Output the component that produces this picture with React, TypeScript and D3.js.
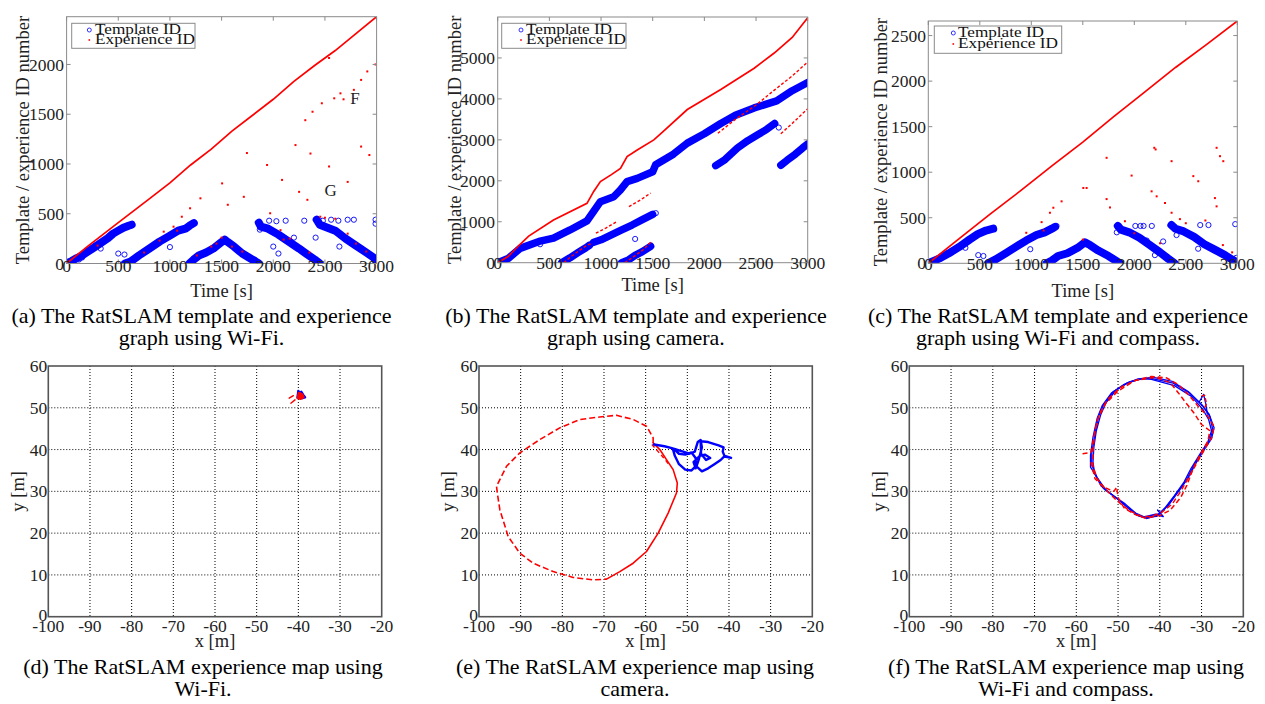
import React from 'react';
import * as d3 from 'd3';

type P = [number, number];

const FONT = '"Liberation Serif", "Times New Roman", serif';

// ---------- shared ticks ----------
const timeTicks = [0, 500, 1000, 1500, 2000, 2500, 3000];
const aYTicks = [0, 500, 1000, 1500, 2000];
const bYTicks = [0, 1000, 2000, 3000, 4000, 5000];
const cYTicks = [0, 500, 1000, 1500, 2000, 2500];
const mapXTicks = [-100, -90, -80, -70, -60, -50, -40, -30, -20];
const mapYTicks = [0, 10, 20, 30, 40, 50, 60];

// ---------- (a) Wi-Fi template / experience ----------
const aTpl1: P[] = [[0, 0], [50, 25], [100, 55], [150, 80], [200, 115], [250, 150], [300, 185], [350, 220], [400, 255], [450, 300], [500, 330], [550, 360], [600, 380], [630, 390]];
const aTpl2: P[] = [[565, 0], [620, 20], [700, 80], [800, 150], [900, 220], [1000, 280], [1080, 330], [1150, 350], [1190, 380], [1230, 405]];
const aTpl3: P[] = [[1190, 0], [1230, 40], [1280, 80], [1350, 110], [1420, 150], [1480, 200], [1530, 240], [1560, 215], [1620, 170], [1700, 100], [1780, 50], [1860, 0]];
const aTpl4: P[] = [[1860, 410], [1880, 370], [1950, 350], [2050, 290], [2150, 220], [2250, 150], [2330, 90], [2400, 40], [2450, 0]];
const aTpl5: P[] = [[2420, 440], [2450, 390], [2500, 370], [2600, 330], [2700, 250], [2800, 180], [2900, 110], [2970, 60], [3000, 20]];
const aTplOut: P[] = [[500, 100], [560, 90], [1000, 165], [1240, 410], [1870, 340], [1960, 430], [2030, 425], [2120, 430], [2200, 260], [2300, 430], [2410, 260], [2480, 430], [2640, 170], [2720, 440], [2780, 440], [2990, 440], [2990, 400], [2050, 100], [2000, 170], [330, 150], [280, 180], [150, 60], [120, 40], [2560, 440], [2630, 430], [2850, 150], [1820, 40]];
const aExpLine: P[] = [[0, 0], [200, 170], [500, 410], [800, 650], [1000, 810], [1200, 990], [1400, 1150], [1600, 1330], [1800, 1490], [2000, 1650], [2200, 1830], [2400, 1990], [2600, 2140], [2800, 2310], [3000, 2480]];
const aExpDots: P[] = [[2540, 2065], [2310, 1440], [2380, 1525], [2470, 1610], [2590, 1660], [2650, 1710], [2780, 1745], [2850, 1845], [2910, 1930], [2990, 2000], [2540, 975], [2720, 820], [2850, 1175], [2930, 1090], [2215, 1190], [2360, 1105], [1940, 990], [2085, 840], [2250, 720], [2330, 640], [1745, 1110], [1715, 670], [1505, 805], [1295, 655], [1195, 555], [1115, 470], [1035, 370], [940, 320], [1970, 505], [2070, 335], [2160, 250], [2455, 470], [2720, 300], [2600, 450], [2500, 460], [1400, 170], [1450, 200], [1500, 260], [1700, 120], [2100, 240], [2350, 110], [2800, 200], [2900, 120], [900, 230], [750, 110], [300, 180], [1070, 330], [1260, 80], [1600, 170], [2680, 1650], [1560, 590]];

// ---------- (b) camera template / experience ----------
const bTplMain: P[] = [[0, 0], [100, 100], [217, 350], [400, 520], [540, 600], [700, 800], [864, 1020], [913, 1200], [994, 1490], [1123, 1610], [1188, 1780], [1252, 1980], [1350, 2060], [1500, 2220], [1528, 2390], [1700, 2650], [1835, 2920], [2000, 3150], [2159, 3400], [2300, 3600], [2482, 3780], [2700, 3950], [2850, 4200], [3000, 4400]];
const bTpl2a: P[] = [[620, 0], [700, 120], [780, 250], [850, 360], [890, 430]];
const bTpl2b: P[] = [[930, 500], [1000, 560], [1100, 680], [1200, 800], [1300, 920], [1400, 1050], [1500, 1180]];
const bTpl3: P[] = [[1200, 0], [1260, 60], [1330, 180], [1400, 270], [1480, 400]];
const bTpl4: P[] = [[2110, 2370], [2200, 2520], [2320, 2800], [2420, 2980], [2520, 3130], [2600, 3250], [2680, 3400]];
const bTpl5: P[] = [[2740, 2380], [2800, 2500], [2880, 2650], [2950, 2800], [3000, 2900]];
const bTplOut: P[] = [[410, 450], [630, 0], [1330, 580], [1530, 1210], [2720, 3300], [880, 420], [1480, 410]];
const bExpLine: P[] = [[0, 0], [100, 150], [217, 450], [300, 650], [540, 1040], [864, 1450], [929, 1740], [994, 1980], [1100, 2150], [1188, 2300], [1252, 2590], [1350, 2750], [1511, 3000], [1600, 3200], [1835, 3740], [2159, 4230], [2482, 4750], [2676, 5120], [2850, 5500], [3000, 5980]];
const bExp2: P[] = [[640, 0], [700, 130], [780, 280], [860, 420], [900, 460]];
const bExp3: P[] = [[950, 720], [1050, 850], [1150, 1000]];
const bExp4: P[] = [[1270, 1370], [1380, 1530], [1480, 1700]];
const bExp5: P[] = [[1230, 0], [1300, 120], [1400, 300], [1490, 520]];
const bExp6: P[] = [[2130, 3160], [2300, 3500], [2500, 3850], [2680, 4220], [2850, 4560], [3000, 4900]];
const bExp7: P[] = [[2740, 3150], [2850, 3400], [3000, 3760]];

// ---------- (c) Wi-Fi + compass template / experience ----------
const cTpl1: P[] = [[0, 0], [60, 30], [120, 60], [200, 110], [300, 180], [400, 260], [480, 320], [560, 360], [630, 380]];
const cTpl2: P[] = [[580, 0], [650, 40], [750, 110], [850, 180], [950, 250], [1050, 310], [1130, 340], [1200, 380], [1230, 400]];
const cTpl3: P[] = [[1150, 0], [1200, 30], [1260, 80], [1350, 110], [1450, 170], [1520, 230], [1570, 200], [1650, 140], [1750, 80], [1820, 30], [1860, 0]];
const cTpl4: P[] = [[1840, 410], [1870, 370], [1950, 340], [2050, 280], [2150, 200], [2250, 120], [2330, 50], [2390, 0]];
const cTpl5: P[] = [[2360, 420], [2400, 380], [2480, 350], [2580, 290], [2680, 210], [2780, 150], [2880, 90], [2950, 40], [3000, 10]];
const cTplOut: P[] = [[485, 90], [535, 80], [990, 155], [1830, 340], [2010, 410], [2060, 410], [2090, 410], [2170, 410], [2200, 90], [2280, 240], [2410, 310], [2640, 420], [2720, 420], [2980, 430], [2990, 60], [2620, 160], [2120, 250], [1245, 410], [360, 170]];
const cExpLine: P[] = [[0, 0], [300, 270], [600, 540], [900, 800], [1200, 1070], [1500, 1330], [1800, 1610], [2100, 1880], [2400, 2150], [2700, 2400], [3000, 2660]];
const cExpDots: P[] = [[2194, 1268], [2207, 1250], [2799, 1268], [2832, 1176], [2864, 1121], [2362, 1121], [2573, 957], [2621, 901], [1731, 1158], [1731, 705], [1764, 613], [1974, 963], [1505, 827], [1537, 827], [1294, 680], [1214, 610], [1181, 555], [1100, 452], [951, 335], [1909, 462], [2168, 790], [2217, 735], [2298, 662], [2362, 555], [2443, 485], [2783, 716], [2799, 625], [2690, 470], [2860, 200], [2950, 120], [2250, 220], [2000, 330], [1500, 260], [1120, 360], [2500, 440]];

// ---------- (d) Wi-Fi map ----------
const dBlue: P[] = [[-40.2, 52.4], [-40.0, 54.0], [-39.6, 53.5], [-39.3, 53.8], [-38.8, 53.0], [-38.4, 52.5], [-39.2, 52.3], [-40.0, 52.6], [-39.8, 53.6], [-39.2, 53.2]];
const dRed: P[] = [[-40.0, 52.4], [-39.8, 53.4], [-39.2, 53.1], [-38.9, 52.6], [-39.5, 52.3], [-39.9, 52.9], [-39.4, 52.7]];
const dRedDash1: P[] = [[-42.2, 52.3], [-41.2, 52.9]];
const dRedDash2: P[] = [[-41.8, 51.1], [-40.8, 51.9]];

// ---------- (e) camera map ----------
const eRedDashed: P[] = [[-58.2, 41.6], [-58.2, 42.8], [-59.8, 45.6], [-63.0, 47.2], [-67.0, 48.2], [-71.0, 47.8], [-75.8, 47.2], [-80.6, 45.2], [-85.4, 42.4], [-90.2, 39.2], [-93.4, 36.0], [-95.8, 31.2], [-95.6, 29.6], [-95.0, 25.6], [-93.0, 19.2], [-90.2, 15.2], [-87.0, 12.8], [-82.2, 10.8], [-77.4, 9.4], [-72.6, 8.8], [-69.4, 9.0]];
const eRedSolid: P[] = [[-69.4, 9.0], [-66.2, 10.8], [-63.0, 12.8], [-59.8, 15.6], [-57.0, 20.0], [-54.6, 24.8], [-52.6, 29.6], [-52.4, 32.0], [-53.4, 35.2], [-55.0, 37.6], [-56.6, 40.0], [-58.2, 41.6]];
const eRedInner: P[] = [[-58.5, 41.2], [-57.0, 39.5], [-55.5, 37.8], [-54.5, 36.5]];
const eBlue: P[] = [[-58.0, 41.2], [-55.5, 40.8], [-53.5, 40.3], [-53.0, 38.5], [-52.0, 36.5], [-50.5, 35.2], [-49.0, 35.0], [-48.0, 36.0], [-48.0, 38.0], [-49.0, 39.3], [-50.5, 38.8], [-52.0, 39.0], [-53.3, 40.2], [-51.0, 39.5], [-49.5, 39.0], [-48.2, 39.5], [-47.5, 41.8], [-46.8, 42.3], [-46.5, 40.5], [-47.2, 37.8], [-47.8, 36.0], [-46.5, 34.8], [-45.0, 35.5], [-43.5, 36.5], [-42.0, 37.5], [-41.0, 38.5], [-39.5, 38.0], [-41.0, 38.3], [-41.5, 39.5], [-41.3, 40.5], [-42.5, 41.0], [-45.0, 41.8], [-46.8, 42.0], [-46.7, 39.0], [-45.5, 37.5], [-44.5, 38.0], [-45.8, 38.8], [-47.0, 38.5], [-48.5, 37.0], [-48.0, 35.5]];

// ---------- (f) Wi-Fi + compass map ----------
const fBlueA: P[] = [[-42.4, 57.1], [-36.8, 55.9], [-32.8, 53.5], [-29.6, 50.3], [-28.0, 47.9], [-27.3, 44.7], [-28.0, 42.3], [-29.6, 39.9], [-32.0, 35.9], [-33.6, 32.7], [-36.0, 29.5], [-38.4, 26.3], [-40.4, 24.3], [-43.2, 23.5], [-45.5, 24.3], [-47.9, 26.3], [-50.3, 28.3], [-53.5, 30.7], [-55.1, 33.5], [-56.3, 36.3], [-56.3, 39.1], [-55.5, 43.9], [-54.7, 47.9], [-53.5, 50.7], [-51.1, 53.9], [-47.9, 55.9], [-44.8, 56.8], [-42.4, 57.1]];
const fBlueB: P[] = [[-42.0, 56.8], [-36.5, 55.3], [-32.5, 52.8], [-29.8, 49.8], [-28.3, 47.2], [-27.6, 44.5], [-28.5, 41.8], [-30.2, 39.2], [-32.5, 35.5], [-34.2, 32.2], [-36.5, 29.0], [-38.8, 26.0], [-40.8, 24.0], [-43.5, 23.8], [-45.8, 24.8], [-48.3, 27.0], [-51.0, 28.9], [-54.0, 31.2], [-55.6, 34.2], [-56.0, 37.0], [-55.8, 40.5], [-55.2, 44.5], [-54.2, 48.2], [-52.9, 51.2], [-50.5, 54.2], [-47.3, 56.2], [-44.5, 57.0], [-42.0, 56.8]];
const fBlueC: P[] = [[-41.5, 57.3], [-37.0, 56.3], [-33.2, 53.9], [-30.0, 50.8], [-28.2, 48.5], [-27.0, 45.2], [-27.6, 42.6], [-29.2, 40.2], [-31.5, 36.5], [-33.2, 33.2], [-35.5, 30.0], [-37.8, 26.8], [-39.8, 24.8], [-42.6, 23.7], [-44.8, 24.0], [-47.3, 25.8], [-49.8, 28.0], [-52.8, 30.2], [-54.8, 33.0], [-56.6, 35.8], [-56.6, 38.6], [-56.0, 43.0], [-55.0, 47.5], [-53.8, 50.5], [-51.6, 53.5], [-48.5, 55.6], [-45.2, 56.9], [-41.5, 57.3]];
const fBlueHook: P[] = [[-30.5, 51.5], [-29.5, 53.2], [-29.0, 51.0], [-28.6, 48.5]];
const fBlueBottom: P[] = [[-44.0, 23.8], [-41.0, 24.5], [-39.2, 24.0], [-40.5, 25.5]];
const fRedA: P[] = [[-56.0, 39.5], [-55.6, 44.0], [-54.5, 48.5], [-52.5, 52.0], [-49.5, 54.8], [-46.0, 56.5], [-42.0, 57.5], [-38.5, 57.2], [-35.5, 55.5], [-33.0, 53.0], [-30.5, 50.0], [-28.5, 48.0], [-27.0, 45.5], [-27.5, 43.0], [-29.0, 40.5], [-31.0, 37.0], [-33.0, 33.5], [-35.0, 30.0], [-37.0, 27.0], [-39.5, 25.0], [-42.0, 24.0], [-44.5, 24.0], [-47.5, 25.5], [-50.5, 28.0], [-53.0, 30.5], [-55.0, 33.0], [-56.0, 36.0], [-56.0, 39.5]];
const fRedB: P[] = [[-58.5, 39.0], [-56.5, 39.3], [-56.0, 42.0], [-55.0, 47.0], [-53.0, 51.0], [-50.0, 54.0], [-46.0, 56.5], [-41.0, 57.3], [-37.5, 56.0], [-35.5, 53.5], [-34.0, 51.5], [-32.0, 49.0], [-30.0, 46.0], [-28.0, 44.5], [-28.5, 42.0], [-30.5, 38.5], [-32.0, 35.5], [-33.5, 31.5], [-35.0, 28.5], [-37.5, 25.5], [-40.0, 24.2], [-43.5, 23.6], [-46.0, 24.5], [-48.5, 26.0], [-50.0, 28.5], [-50.3, 31.0], [-51.0, 30.0], [-53.5, 31.0], [-55.5, 33.0], [-56.5, 37.0]];
const fRedSpur: P[] = [[-30.0, 52.8], [-29.3, 53.0], [-28.8, 51.0], [-29.5, 49.5]];

// ---------- captions ----------
const captions: [string, string][] = [
  ['(a) The RatSLAM template and experience', 'graph using Wi-Fi.'],
  ['(b) The RatSLAM template and experience', 'graph using camera.'],
  ['(c) The RatSLAM template and experience', 'graph using Wi-Fi and compass.'],
  ['(d) The RatSLAM experience map using', 'Wi-Fi.'],
  ['(e) The RatSLAM experience map using', 'camera.'],
  ['(f) The RatSLAM experience map using', 'Wi-Fi and compass.'],
];

const BLUE = '#0000ff';
const RED = '#ff0000';
const CAP_SIZE = 22;

interface TopProps {
  id: string;
  x0: number; x1: number; y0: number; y1: number;
  yMax: number; yTicks: number[];
  bands: P[][]; bandW: number; outliers: P[];
  expLine: P[]; expDots: P[]; expDashes: P[][];
  legend: { x0: number; y0: number; x1: number; y1: number; mx: number; tx: number; r1: number; r2: number };
  tickBase: number; labelBase: number; yTickRight: number; yLabelX: number;
  caption: [string, string]; capX: number;
}

function TopPanel(p: TopProps) {
  const x = d3.scaleLinear().domain([0, 3000]).range([p.x0, p.x1]);
  const y = d3.scaleLinear().domain([0, p.yMax]).range([p.y1, p.y0]);
  const line = d3.line<P>().x(d => x(d[0])).y(d => y(d[1]));
  const grey = '#8a8a8a';
  const tl = 4;
  return (
    <g>
      <clipPath id={p.id}>
        <rect x={p.x0} y={p.y0} width={p.x1 - p.x0} height={p.y1 - p.y0} />
      </clipPath>
      <g clipPath={`url(#${p.id})`}>
        {p.bands.map((b, i) => (
          <path key={'b' + i} d={line(b) || ''} fill="none" stroke={BLUE} strokeWidth={p.bandW} strokeLinecap="round" strokeLinejoin="round" />
        ))}
        {p.bands.flat().concat(p.outliers).map((d, i) => (
          <circle key={'c' + i} cx={x(d[0])} cy={y(d[1])} r={2.6} fill="none" stroke={BLUE} strokeWidth={0.9} />
        ))}
        <path d={line(p.expLine) || ''} fill="none" stroke={RED} strokeWidth={1.7} />
        {p.expDashes.map((b, i) => (
          <path key={'r' + i} d={line(b) || ''} fill="none" stroke={RED} strokeWidth={1.4} strokeDasharray="3 2" />
        ))}
        {p.expDots.map((d, i) => (
          <rect key={'d' + i} x={x(d[0]) - 1} y={y(d[1]) - 1} width={2} height={2} fill={RED} />
        ))}
      </g>
      <rect x={p.x0} y={p.y0} width={p.x1 - p.x0} height={p.y1 - p.y0} fill="none" stroke={grey} strokeWidth={1} />
      {timeTicks.map(t => (
        <g key={'xt' + t}>
          <line x1={x(t)} x2={x(t)} y1={p.y1} y2={p.y1 - tl} stroke={grey} />
          <line x1={x(t)} x2={x(t)} y1={p.y0} y2={p.y0 + tl} stroke={grey} />
          <text x={x(t)} y={p.tickBase} textAnchor="middle" fontSize={17.5} fill="#222">{t}</text>
        </g>
      ))}
      {p.yTicks.map(v => (
        <g key={'yt' + v}>
          <line x1={p.x0} x2={p.x0 + tl} y1={y(v)} y2={y(v)} stroke={grey} />
          <line x1={p.x1} x2={p.x1 - tl} y1={y(v)} y2={y(v)} stroke={grey} />
          <text x={p.yTickRight} y={y(v)} dy="0.35em" textAnchor="end" fontSize={17.5} fill="#222">{v}</text>
        </g>
      ))}
      <text x={(p.x0 + p.x1) / 2} y={p.labelBase} textAnchor="middle" fontSize={18.5} fill="#222">Time [s]</text>
      <text transform={`translate(${p.yLabelX},${(p.y0 + p.y1) / 2}) rotate(-90)`} dy="0.35em" textAnchor="middle" fontSize={18.5} fill="#222">
        Template / experience ID number
      </text>
      <rect x={p.legend.x0} y={p.legend.y0} width={p.legend.x1 - p.legend.x0} height={p.legend.y1 - p.legend.y0} fill="#fff" stroke={grey} />
      <circle cx={p.legend.mx} cy={p.legend.r1 - 4} r={2} fill="none" stroke={BLUE} strokeWidth={0.8} />
      <rect x={p.legend.mx - 0.8} y={p.legend.r2 - 4.8} width={1.6} height={1.6} fill={RED} />
      <text x={p.legend.tx} y={p.legend.r1} fontSize={14} textLength={86} lengthAdjust="spacingAndGlyphs" fill="#111">Template ID</text>
      <text x={p.legend.tx} y={p.legend.r2} fontSize={14} textLength={100} lengthAdjust="spacingAndGlyphs" fill="#111">Experience ID</text>
      <text x={p.capX} y={323} textAnchor="middle" fontSize={CAP_SIZE} fill="#000">{p.caption[0]}</text>
      <text x={p.capX} y={345} textAnchor="middle" fontSize={CAP_SIZE} fill="#000">{p.caption[1]}</text>
    </g>
  );
}

interface MapSeries { pts: P[]; color: string; width: number; dash?: string }

interface MapProps {
  id: string;
  x0: number; x1: number;
  series: MapSeries[];
  yLabelX: number; caption: [string, string]; capX: number;
}

const MY0 = 366;
const MY1 = 616.7;

function MapPanel(p: MapProps) {
  const x = d3.scaleLinear().domain([-100, -20]).range([p.x0, p.x1]);
  const y = d3.scaleLinear().domain([0, 60]).range([MY1, MY0]);
  const line = d3.line<P>().x(d => x(d[0])).y(d => y(d[1]));
  return (
    <g>
      <clipPath id={p.id}>
        <rect x={p.x0} y={MY0} width={p.x1 - p.x0} height={MY1 - MY0} />
      </clipPath>
      {mapXTicks.slice(1, -1).map(v => (
        <line key={'gx' + v} x1={x(v)} x2={x(v)} y1={MY0} y2={MY1} stroke="#000" strokeWidth={1} strokeDasharray="1 2" />
      ))}
      {mapYTicks.slice(1, -1).map(v => (
        <line key={'gy' + v} x1={p.x0} x2={p.x1} y1={y(v)} y2={y(v)} stroke="#000" strokeWidth={1} strokeDasharray="1 2" />
      ))}
      <g clipPath={`url(#${p.id})`}>
        {p.series.map((s, i) => (
          <path key={i} d={line(s.pts) || ''} fill="none" stroke={s.color} strokeWidth={s.width} strokeDasharray={s.dash} strokeLinejoin="round" strokeLinecap={s.dash ? 'butt' : 'round'} />
        ))}
      </g>
      <rect x={p.x0} y={MY0} width={p.x1 - p.x0} height={MY1 - MY0} fill="none" stroke="#555" strokeWidth={1.6} />
      {mapXTicks.map(v => (
        <text key={'xl' + v} x={x(v)} y={632} textAnchor="middle" fontSize={17.5} fill="#222">{v}</text>
      ))}
      {mapYTicks.map(v => (
        <text key={'yl' + v} x={p.x0 - 1} y={y(v) - (v === 0 ? 2 : 0)} dy="0.35em" textAnchor="end" fontSize={17.5} fill="#222">{v}</text>
      ))}
      <text x={(p.x0 + p.x1) / 2} y={647} textAnchor="middle" fontSize={18.5} fill="#222">x [m]</text>
      <text transform={`translate(${p.yLabelX},${(MY0 + MY1) / 2}) rotate(-90)`} dy="0.35em" textAnchor="middle" fontSize={18.5} fill="#222">y [m]</text>
      <text x={p.capX} y={674} textAnchor="middle" fontSize={CAP_SIZE} fill="#000">{p.caption[0]}</text>
      <text x={p.capX} y={696} textAnchor="middle" fontSize={CAP_SIZE} fill="#000">{p.caption[1]}</text>
    </g>
  );
}

export default function App() {
  // annotation letters in panel (a)
  const ax = d3.scaleLinear().domain([0, 3000]).range([66.6, 376.6]);
  const ay = d3.scaleLinear().domain([0, 2480]).range([263.5, 16.7]);
  return (
    <svg width={1265} height={704} style={{ position: 'absolute', left: 0, top: 0, background: '#fff' }} fontFamily={FONT}>
      <rect width={1265} height={704} fill="#fff" />
      <TopPanel
        id="clipA" x0={66.6} x1={376.6} y0={16.7} y1={263.5} yMax={2480} yTicks={aYTicks}
        bands={[aTpl1, aTpl2, aTpl3, aTpl4, aTpl5]} bandW={8} outliers={aTplOut}
        expLine={aExpLine} expDots={aExpDots} expDashes={[]}
        legend={{ x0: 71.7, y0: 23.3, x1: 195, y1: 48.3, mx: 89.3, tx: 95, r1: 34, r2: 44 }}
        tickBase={272} labelBase={297} yTickRight={64} yLabelX={23}
        caption={captions[0]} capX={201.5}
      />
      <text x={ax(2790)} y={ay(1660)} dy="0.35em" textAnchor="middle" fontSize={17} fill="#222">F</text>
      <text x={ax(2555)} y={ay(740)} dy="0.35em" textAnchor="middle" fontSize={17} fill="#222">G</text>
      <TopPanel
        id="clipB" x0={497.7} x1={807.7} y0={17} y1={262.7} yMax={6000} yTicks={bYTicks}
        bands={[bTplMain, bTpl2a, bTpl2b, bTpl3, bTpl4, bTpl5]} bandW={7.5} outliers={bTplOut}
        expLine={bExpLine} expDots={[]} expDashes={[bExp2, bExp3, bExp4, bExp5, bExp6, bExp7]}
        legend={{ x0: 501.7, y0: 23.3, x1: 626, y1: 48.3, mx: 521, tx: 526, r1: 34, r2: 44 }}
        tickBase={269} labelBase={291} yTickRight={495} yLabelX={455}
        caption={captions[1]} capX={636}
      />
      <TopPanel
        id="clipC" x0={928.3} x1={1237.3} y0={21} y1={263.3} yMax={2660} yTicks={cYTicks}
        bands={[cTpl1, cTpl2, cTpl3, cTpl4, cTpl5]} bandW={8} outliers={cTplOut}
        expLine={cExpLine} expDots={cExpDots} expDashes={[]}
        legend={{ x0: 934.3, y0: 26, x1: 1061.7, y1: 53.3, mx: 953.3, tx: 958, r1: 37, r2: 48 }}
        tickBase={270} labelBase={297} yTickRight={926} yLabelX={881}
        caption={captions[2]} capX={1058}
      />
      <MapPanel
        id="clipD" x0={48.3} x1={381.7} yLabelX={18} caption={captions[3]} capX={203}
        series={[
          { pts: dBlue, color: BLUE, width: 2.5 },
          { pts: dRed, color: RED, width: 3.5 },
          { pts: dRedDash1, color: RED, width: 1.4 },
          { pts: dRedDash2, color: RED, width: 1.4 },
        ]}
      />
      <MapPanel
        id="clipE" x0={479} x1={812.3} yLabelX={447.5} caption={captions[4]} capX={635}
        series={[
          { pts: eRedDashed, color: RED, width: 1.6, dash: '6 3' },
          { pts: eRedSolid, color: RED, width: 1.6 },
          { pts: eRedInner, color: RED, width: 1.4, dash: '4 3' },
          { pts: eBlue, color: BLUE, width: 2.4 },
        ]}
      />
      <MapPanel
        id="clipF" x0={909.3} x1={1243.3} yLabelX={879} caption={captions[5]} capX={1066}
        series={[
          { pts: fBlueA, color: BLUE, width: 1.3 },
          { pts: fBlueB, color: BLUE, width: 1.3 },
          { pts: fBlueC, color: BLUE, width: 1.3 },
          { pts: fBlueHook, color: BLUE, width: 1.3 },
          { pts: fBlueBottom, color: BLUE, width: 1.6 },
          { pts: fRedA, color: RED, width: 1.5, dash: '5 3' },
          { pts: fRedB, color: RED, width: 1.5, dash: '5 3' },
          { pts: fRedSpur, color: RED, width: 1.5, dash: '4 2' },
        ]}
      />
    </svg>
  );
}
